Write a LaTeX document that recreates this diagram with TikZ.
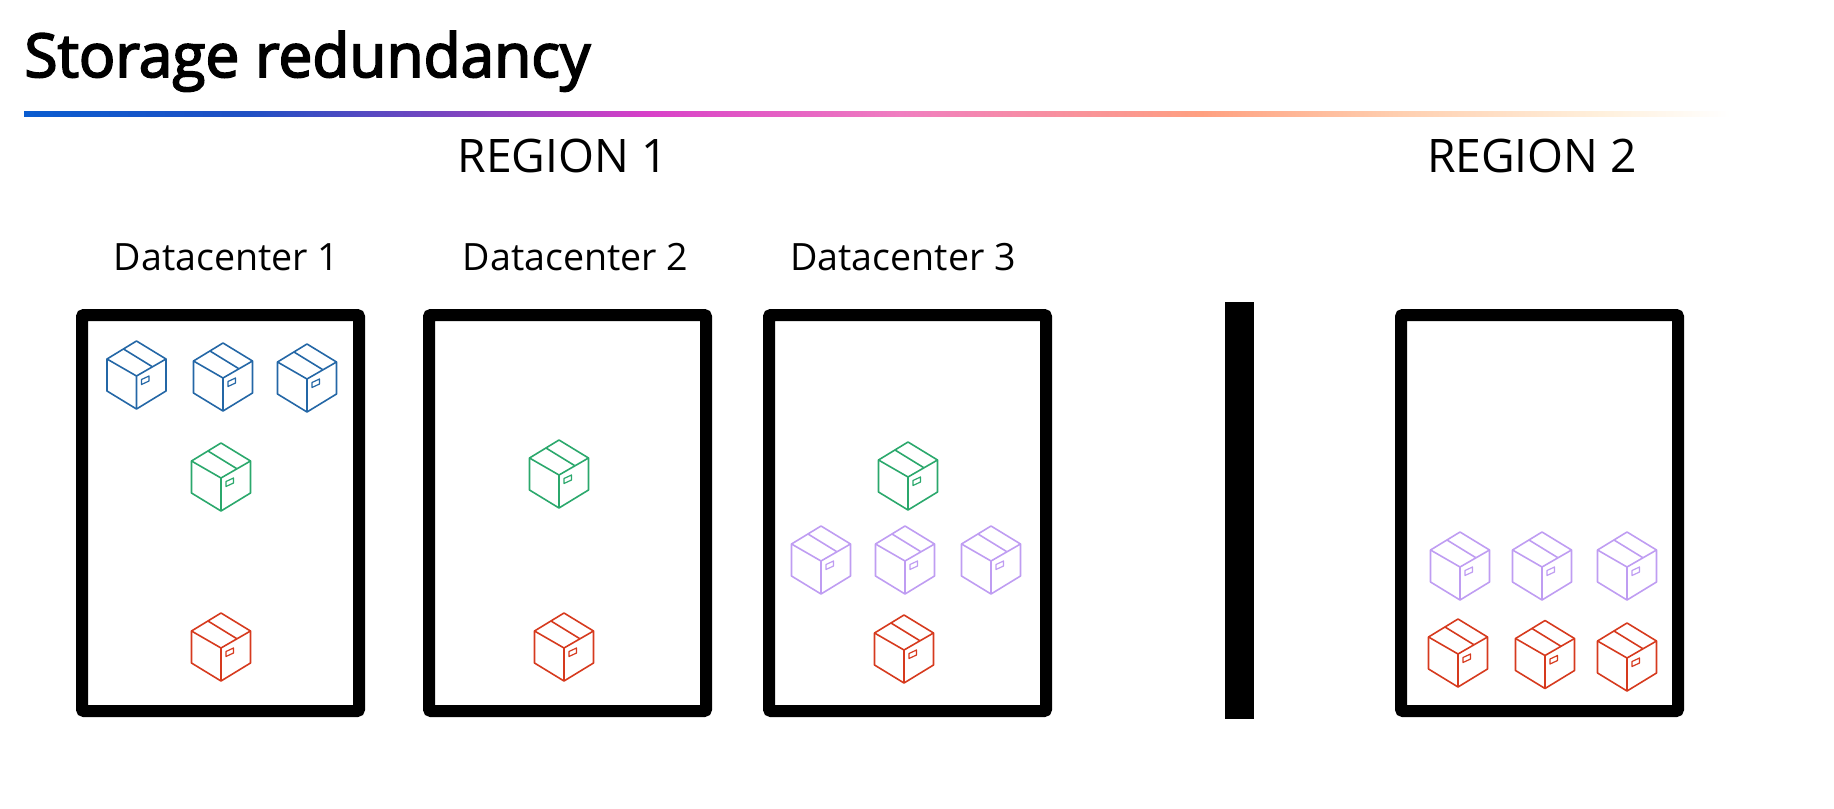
\documentclass[tikz,border=0pt]{standalone}
\usepackage{fontspec}
\setmainfont{Open Sans}
\newfontfamily\titlefont[FakeBold=3]{Open Sans}
\usepackage{tikz}

\definecolor{crateblue}{HTML}{2467A6}
\definecolor{crategreen}{HTML}{2BA86C}
\definecolor{cratered}{HTML}{D63A1E}
\definecolor{cratepurple}{HTML}{BF9DF2}

\definecolor{ruleA}{HTML}{0A5CD0}
\definecolor{ruleB}{HTML}{2050C4}
\definecolor{ruleC}{HTML}{7A45C0}
\definecolor{ruleD}{HTML}{D840C8}
\definecolor{ruleE}{HTML}{F07EC0}
\definecolor{ruleF}{HTML}{FFA080}
\definecolor{ruleG}{HTML}{FFCFB0}
\definecolor{ruleH}{HTML}{FFF0DC}

\pgfdeclarehorizontalshading{titlerule}{100bp}{
	color(0bp)=(ruleA);
	color(25bp)=(ruleA);
	color(31.6bp)=(ruleB);
	color(37.4bp)=(ruleC);
	color(43.3bp)=(ruleD);
	color(50.7bp)=(ruleE);
	color(59.5bp)=(ruleF);
	color(65.3bp)=(ruleG);
	color(71.2bp)=(ruleH);
	color(75bp)=(white);
	color(100bp)=(white)}

\tikzset{
	dcbox/.style={draw, line width=6pt, rounded corners=1pt, minimum width=138.5pt, minimum height=198pt, inner sep=0pt},
	dclabel/.style={font=\fontsize{18.8}{22}\selectfont, inner sep=0pt},
	regionlabel/.style={font=\fontsize{23.1}{26}\selectfont, inner sep=0pt},
	pics/crate/.style={code={
		\draw[line width=0.8pt, line join=round] (0,-34)--(-29.5,-16)--(-29.5,16)--(0,34)--(29.5,16)--(29.5,-16)--cycle;
		\draw[line width=0.8pt, line join=round] (-29.5,-16)--(0,1)--(29.5,-16) (0,1)--(0,34);
		\draw[line width=0.8pt] (-13,-26)--(15.5,-8.5);
		\draw[line width=0.6pt, line join=round] (5,4.5)--(12.5,1)--(12.5,6)--(5,9.5)--cycle;
	}}
}

\begin{document}
\begin{tikzpicture}[x=0.5pt, y=-0.5pt]
	\useasboundingbox (0,0) rectangle (1834,808);

	\node[anchor=base west, inner sep=0pt, font=\fontsize{30.2}{34}\titlefont] (title) at (24,77) {Storage redundancy};
	\shade[shading=titlerule] (24,111.5) rectangle (1730,116.5);

	\node[regionlabel] (region1) at (562.5,156) {REGION 1};
	\node[regionlabel] (region2) at (1532,156) {REGION 2};

	\foreach \n/\x in {1/226.5, 2/575.5, 3/903}
		\node[dclabel] (label\n) at (\x,257) {Datacenter \n};

	\foreach \n/\x in {1/220.5, 2/567.5, 3/907.5, 4/1539.5}
		\node[dcbox] (dc\n) at (\x,513) {};

	\node[fill, inner sep=0pt, minimum width=14.5pt, minimum height=208.5pt] (divider) at (1239.5,510.5) {};

	% one crate per position, one loop per colour
	\foreach \x/\y in {136.5/375, 223/377, 307/378}
		\pic[color=crateblue] at (\x,\y) {crate};
	\foreach \x/\y in {221/477, 559/474, 908/476}
		\pic[color=crategreen] at (\x,\y) {crate};
	\foreach \x/\y in {821/560, 905/560, 991/560, 1460/566, 1542/566, 1627/566}
		\pic[color=cratepurple] at (\x,\y) {crate};
	\foreach \x/\y in {221/647, 564/647, 904/649, 1458/653, 1545/654.5, 1627/657}
		\pic[color=cratered] at (\x,\y) {crate};
\end{tikzpicture}
\end{document}
